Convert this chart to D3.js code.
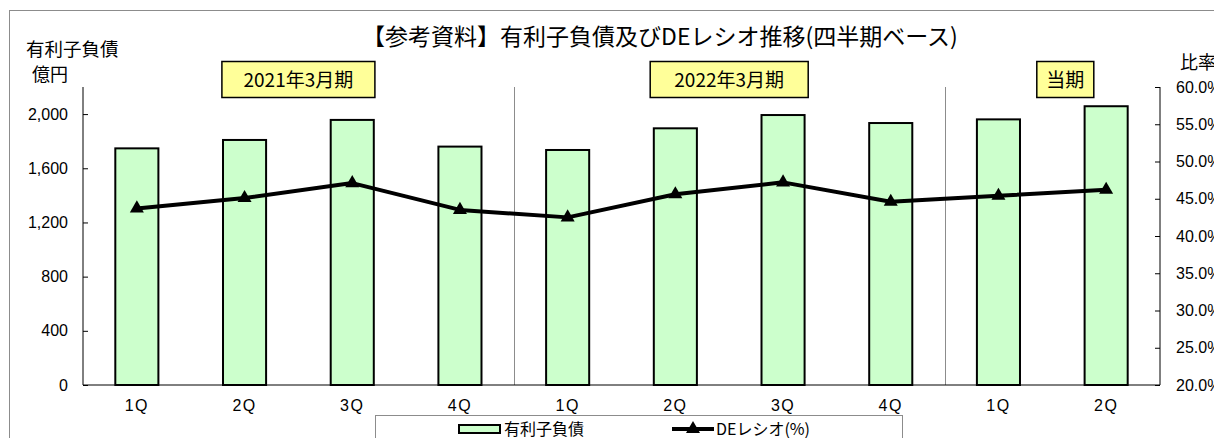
<!DOCTYPE html>
<html><head><meta charset="utf-8">
<script src="https://cdn.jsdelivr.net/npm/d3@7/dist/d3.min.js"></script>
<style>
html,body{margin:0;padding:0;background:#fff;}
svg{display:block;}
.jp{font-family:"Noto Sans CJK JP","Noto Sans",sans-serif;}
.num{font-family:"Liberation Sans",Arial,sans-serif;}
</style></head>
<body>
<svg id="chart" width="1214" height="438"></svg>
<script>
const categories = ["1Q","2Q","3Q","4Q","1Q","2Q","3Q","4Q","1Q","2Q"];
const debt = [1747, 1809, 1957, 1760, 1735, 1895, 1993, 1934, 1961, 2058];
const deRatio = [43.7, 45.1, 47.1, 43.5, 42.5, 45.6, 47.2, 44.6, 45.4, 46.2];
const leftTicks = [0, 400, 800, 1200, 1600, 2000];
const rightTicks = [20, 25, 30, 35, 40, 45, 50, 55, 60];
const periodLabels = ["2021年3月期", "2022年3月期", "当期"];
const periodStarts = [0, 4, 8];
const periodEnds = [4, 8, 10];
const title = "【参考資料】有利子負債及びDEレシオ推移(四半期ベース)";
const legendLabels = ["有利子負債", "DEレシオ(%)"];

const svg = d3.select("#chart");
const L = 83, R = 1160, T = 87, B = 385;

// outer border
svg.append("rect").attr("x", 9.5).attr("y", 10.5).attr("width", 1300).attr("height", 600)
  .attr("fill", "none").attr("stroke", "#8c8c8c").attr("stroke-width", 1);

const x = d3.scaleBand().domain(d3.range(categories.length)).range([L, R]).paddingInner(0).paddingOuter(0);
const yL = d3.scaleLinear().domain([0, 2200]).range([B, T]);
const yR = d3.scaleLinear().domain([20, 60]).range([B, T]);

// separators
const seps = periodStarts.slice(1);
svg.selectAll("line.sep").data(seps).enter().append("line")
  .attr("x1", d => Math.round(x(d)) + 0.5).attr("x2", d => Math.round(x(d)) + 0.5)
  .attr("y1", T).attr("y2", B).attr("stroke", "#8c8c8c").attr("stroke-width", 1);

// bars
const bw = x.bandwidth() * 0.4;
svg.selectAll("rect.bar").data(debt).enter().append("rect")
  .attr("x", (d, i) => x(i) + (x.bandwidth() - bw) / 2)
  .attr("y", d => yL(d))
  .attr("width", bw).attr("height", d => B - yL(d))
  .attr("fill", "#ccffcc").attr("stroke", "#000").attr("stroke-width", 2);

// axes
const axL = d3.axisLeft(yL).tickValues(leftTicks).tickSize(-5).tickPadding(15).tickFormat(d3.format(","));
const gL = svg.append("g").attr("transform", `translate(${L},0)`).call(axL);
gL.select(".domain").remove();
gL.append("line").attr("x1", 0).attr("x2", 0).attr("y1", T).attr("y2", B).attr("stroke", "#000");
gL.selectAll("text").attr("class", "num").attr("font-size", 16).attr("fill", "#000");

const axR = d3.axisRight(yR).tickValues(rightTicks).tickSize(-5).tickPadding(16).tickFormat(d => d.toFixed(1) + "%");
const gR = svg.append("g").attr("transform", `translate(${R},0)`).call(axR);
gR.select(".domain").remove();
gR.append("line").attr("x1", 0).attr("x2", 0).attr("y1", T).attr("y2", B).attr("stroke", "#000");
gR.selectAll("text").attr("class", "num").attr("font-size", 16).attr("fill", "#000");

const axB = d3.axisBottom(x).tickSize(0).tickPadding(15).tickFormat(i => categories[i]);
const gB = svg.append("g").attr("transform", `translate(0,${B})`).call(axB);
gB.select(".domain").remove();
gB.append("line").attr("x1", L).attr("x2", R).attr("y1", 0).attr("y2", 0).attr("stroke", "#000");
gB.selectAll("text").attr("class", "num").attr("font-size", 16).attr("fill", "#000")
  .attr("letter-spacing", 1.5);

// line
const line = d3.line().x((d, i) => x(i) + x.bandwidth() / 2).y(d => yR(d));
svg.append("path").datum(deRatio).attr("d", line).attr("fill", "none")
  .attr("stroke", "#000").attr("stroke-width", 4).attr("stroke-linejoin", "round");
const tri = d3.symbol().type(d3.symbolTriangle).size(85);
svg.selectAll("path.mk").data(deRatio).enter().append("path")
  .attr("d", tri).attr("fill", "#000")
  .attr("transform", (d, i) => `translate(${x(i) + x.bandwidth() / 2},${yR(d)})`);

// title
svg.append("text").attr("class", "jp").attr("x", 660).attr("y", 45).attr("text-anchor", "middle")
  .attr("font-size", 23).attr("fill", "#000").text(title);

// axis titles
svg.append("text").attr("class", "jp").attr("x", 26).attr("y", 56).attr("font-size", 18.5).text("有利子負債");
svg.append("text").attr("class", "jp").attr("x", 32).attr("y", 81).attr("font-size", 18).text("億円");
svg.append("text").attr("class", "jp").attr("x", 1180).attr("y", 69).attr("font-size", 18).text("比率");

// period labels
const boxOffsets = [0, 0, 13];
const boxWidths = [153, 158, 57];
periodLabels.forEach((lab, k) => {
  const cx = (x(periodStarts[k]) + x(periodEnds[k] - 1) + x.bandwidth()) / 2 + boxOffsets[k];
  const g = svg.append("g");
  g.append("rect").attr("x", cx - boxWidths[k] / 2).attr("y", 61.5).attr("width", boxWidths[k]).attr("height", 36)
    .attr("fill", "#ffff99").attr("stroke", "#000").attr("stroke-width", 1.5);
  g.append("text").attr("class", "jp").attr("x", cx).attr("y", 87)
    .attr("text-anchor", "middle").attr("font-size", 19).attr("fill", "#000").text(lab);
});

// legend
svg.append("rect").attr("x", 375.5).attr("y", 415.5).attr("width", 527).attr("height", 60)
  .attr("fill", "#fff").attr("stroke", "#8c8c8c");
svg.append("rect").attr("x", 459).attr("y", 425).attr("width", 41).attr("height", 8)
  .attr("fill", "#ccffcc").attr("stroke", "#000").attr("stroke-width", 2);
svg.append("text").attr("class", "jp").attr("x", 504).attr("y", 435).attr("font-size", 16).text(legendLabels[0]);
svg.append("line").attr("x1", 672).attr("x2", 714).attr("y1", 429).attr("y2", 429)
  .attr("stroke", "#000").attr("stroke-width", 4);
svg.append("path").attr("d", tri).attr("fill", "#000").attr("transform", "translate(693,429)");
svg.append("text").attr("class", "jp").attr("x", 716).attr("y", 435).attr("font-size", 16).text(legendLabels[1]);
</script>
</body></html>
